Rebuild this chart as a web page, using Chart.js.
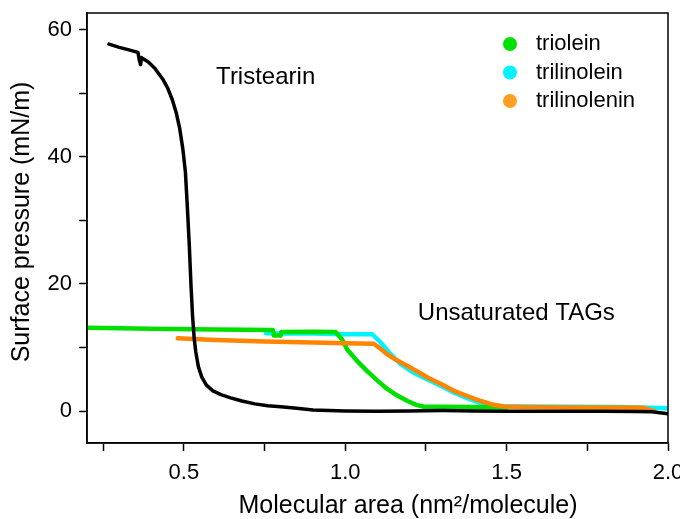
<!DOCTYPE html>
<html>
<head>
<meta charset="utf-8">
<script src="https://cdn.jsdelivr.net/npm/chart.js@4"></script>
<style>
  html, body { margin: 0; padding: 0; background: #fff; }
  #wrap { width: 680px; height: 519px; }
</style>
</head>
<body>
<div id="wrap"><canvas id="chart" width="680" height="519"></canvas></div>
<script>
// values: [area, pressure]
const tristearin = [
  [0.268, 57.7], [0.300, 57.2], [0.330, 56.8], [0.358, 56.4], [0.362, 55.2], [0.366, 54.5],
  [0.369, 55.6], [0.374, 55.4], [0.390, 54.9], [0.410, 53.9], [0.436, 52.1], [0.450, 50.8],
  [0.464, 49.0], [0.476, 47.0], [0.487, 44.5], [0.497, 41.2], [0.505, 37.5], [0.511, 32.0],
  [0.517, 26.0], [0.522, 20.0], [0.527, 15.0], [0.532, 11.5], [0.537, 9.3], [0.545, 7.0],
  [0.556, 5.3], [0.570, 4.1], [0.590, 3.2], [0.615, 2.6], [0.645, 2.1], [0.680, 1.6],
  [0.720, 1.15], [0.760, 0.85], [0.800, 0.7], [0.850, 0.45], [0.900, 0.2], [0.950, 0.1],
  [1.000, 0.05], [1.100, 0.0], [1.200, 0.05], [1.300, 0.1], [1.400, 0.05], [1.500, 0.0],
  [1.600, 0.0], [1.700, 0.0], [1.800, 0.0], [1.900, -0.05], [1.950, -0.1], [2.000, -0.4]
];
const triolein = [
  [0.205, 13.1], [0.400, 12.95], [0.600, 12.85], [0.776, 12.75], [0.778, 12.2], [0.779, 11.9],
  [0.800, 11.9], [0.802, 12.45], [0.900, 12.5], [0.970, 12.45], [0.990, 11.3], [1.006, 9.7],
  [1.035, 8.0], [1.068, 6.3], [1.100, 4.8], [1.130, 3.5], [1.160, 2.5], [1.193, 1.6],
  [1.220, 1.0], [1.244, 0.7], [1.300, 0.7], [1.400, 0.65], [1.500, 0.6]
];
const trilinolein = [
  [0.755, 12.25], [0.800, 12.2], [0.900, 12.2], [1.000, 12.1], [1.084, 12.1], [1.110, 10.8],
  [1.140, 9.0], [1.172, 7.4], [1.210, 6.1], [1.255, 5.0], [1.300, 3.9], [1.337, 2.9],
  [1.380, 2.0], [1.420, 1.25], [1.455, 0.9], [1.482, 0.75], [1.550, 0.75], [1.700, 0.7],
  [1.850, 0.65], [1.950, 0.55], [2.000, 0.45]
];
const trilinolenin = [
  [0.481, 11.45], [0.600, 11.2], [0.750, 10.95], [0.900, 10.8], [1.000, 10.7], [1.089, 10.6],
  [1.110, 9.8], [1.130, 8.95], [1.160, 8.0], [1.193, 7.1], [1.225, 6.2], [1.255, 5.3],
  [1.300, 4.2], [1.337, 3.2], [1.380, 2.35], [1.420, 1.6], [1.460, 1.0], [1.493, 0.73],
  [1.550, 0.65], [1.700, 0.6], [1.850, 0.6], [1.920, 0.55], [1.958, 0.0]
];
const xTicks = [0.25, 0.5, 0.75, 1.0, 1.25, 1.5, 1.75, 2.0];
const yTicks = [0, 10, 20, 30, 40, 50, 60];
const legendNames = ['triolein', 'trilinolein', 'trilinolenin'];
const legendDots = ['#00e000', '#00f4ff', '#ffa022'];

const FONT = '"Liberation Sans", Arial, sans-serif';
const pts = arr => arr.map(p => ({ x: p[0], y: p[1] }));

const framePlugin = {
  id: 'frame',
  afterDraw(chart) {
    const { ctx, chartArea: a, scales } = chart;
    ctx.save();
    ctx.strokeStyle = '#000';
    ctx.lineWidth = 1.5;
    ctx.strokeRect(a.left, a.top, a.right - a.left, a.bottom - a.top);

    // legend inside the plot
    ctx.font = '22px ' + FONT;
    ctx.textBaseline = 'middle';
    ctx.textAlign = 'left';
    legendNames.forEach((name, i) => {
      const y = a.top + 31 + i * 28.5;
      ctx.fillStyle = legendDots[i];
      ctx.beginPath();
      ctx.arc(a.right - 158, y, 7, 0, Math.PI * 2);
      ctx.fill();
      ctx.fillStyle = '#000';
      ctx.fillText(name, a.right - 132, y);
    });

    // curve labels
    ctx.font = '24px ' + FONT;
    ctx.fillText('Tristearin', scales.x.getPixelForValue(0.6), scales.y.getPixelForValue(52.5));
    ctx.fillText('Unsaturated TAGs', scales.x.getPixelForValue(1.225), scales.y.getPixelForValue(15.4));

    // axis titles
    ctx.font = '25px ' + FONT;
    ctx.textAlign = 'center';
    ctx.fillText('Molecular area (nm²/molecule)', 408, 506);
    ctx.translate(22, 222);
    ctx.rotate(-Math.PI / 2);
    ctx.fillText('Surface pressure (mN/m)', 0, 0);
    ctx.restore();
  }
};

new Chart(document.getElementById('chart'), {
  type: 'scatter',
  data: {
    datasets: [
      { label: 'Tristearin', data: pts(tristearin), borderColor: '#000', borderWidth: 3.5, order: 0 },
      { label: 'trilinolenin', data: pts(trilinolenin), borderColor: '#ff8400', borderWidth: 4.5, order: 1 },
      { label: 'triolein', data: pts(triolein), borderColor: '#00e000', borderWidth: 4.5, order: 2 },
      { label: 'trilinolein', data: pts(trilinolein), borderColor: '#00f4ff', borderWidth: 4.5, order: 3 }
    ]
  },
  options: {
    responsive: false,
    animation: false,
    showLine: true,
    elements: { point: { radius: 0 }, line: { tension: 0, borderCapStyle: 'round', borderJoinStyle: 'round' } },
    layout: { padding: { left: 0, right: 12, top: 13, bottom: 0 } },
    plugins: { legend: { display: false }, tooltip: { enabled: false } },
    scales: {
      x: {
        type: 'linear',
        min: 0.2,
        max: 2.0,
        afterBuildTicks: s => { s.ticks = xTicks.map(v => ({ value: v })); },
        afterFit: s => { s.height = 76; s.paddingLeft = 0; s.paddingRight = 0; },
        grid: { drawOnChartArea: false, drawTicks: true, tickLength: 8, tickColor: '#000', tickWidth: 1.5 },
        border: { color: '#000', width: 1.5 },
        ticks: {
          color: '#000',
          font: { family: FONT, size: 22 },
          padding: 9,
          maxRotation: 0,
          autoSkip: false,
          callback: v => (Math.abs(v * 2 - Math.round(v * 2)) < 1e-6 ? v.toFixed(1) : '')
        }
      },
      y: {
        type: 'linear',
        min: -5,
        max: 62.6,
        afterBuildTicks: s => { s.ticks = yTicks.map(v => ({ value: v })); },
        afterFit: s => { s.width = 87; s.paddingTop = 0; s.paddingBottom = 0; },
        grid: { drawOnChartArea: false, drawTicks: true, tickLength: 8, tickColor: '#000', tickWidth: 1.5 },
        border: { color: '#000', width: 1.5 },
        ticks: {
          color: '#000',
          font: { family: FONT, size: 22 },
          padding: 7,
          autoSkip: false,
          callback: v => (v % 20 === 0 ? String(v) : '')
        }
      }
    }
  },
  plugins: [framePlugin]
});
</script>
</body>
</html>
